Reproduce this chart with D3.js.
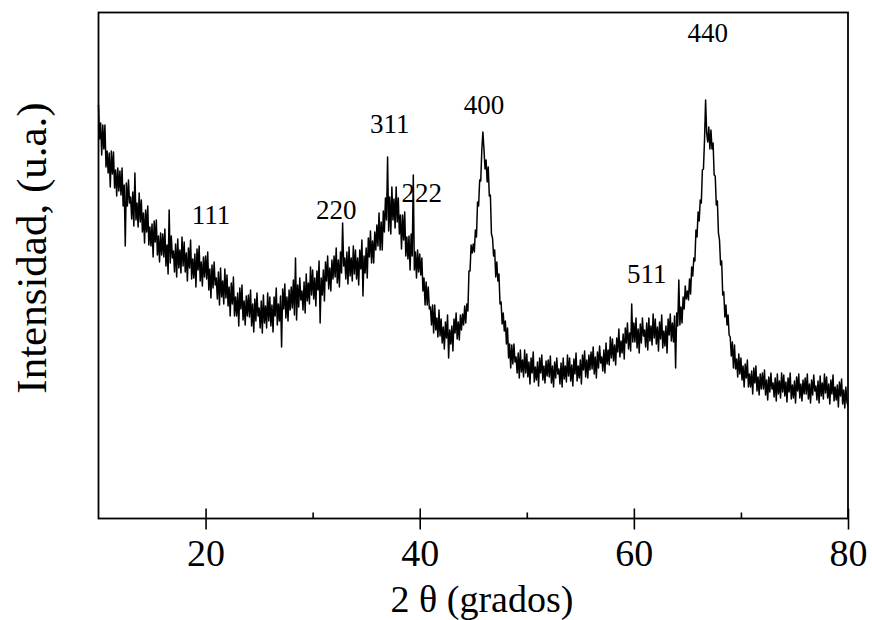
<!DOCTYPE html>
<html>
<head>
<meta charset="utf-8">
<script src="https://cdn.jsdelivr.net/npm/d3@7"></script>
<style>
  html, body { margin: 0; padding: 0; background: #ffffff; }
  svg { display: block; }
</style>
</head>
<body>
<svg id="chart" width="872" height="620"></svg>
<script>
// XRD scan: 2θ from 10° to 80°, one reading every 0.1°
const twoThetaStart = 10;
const twoThetaStep = 0.1;

// Intensity (arbitrary units), ten readings per degree (one row per degree)
const intensity = [
  413,379,395,363,393,369,393,351,367,345,
  365,331,367,344,366,330,348,322,350,327,
  347,323,350,312,333,272,335,312,338,315,
  321,299,326,292,345,298,315,291,325,296,
  318,286,305,275,308,286,312,273,291,272,
  294,261,297,276,298,263,282,256,285,263,
  284,261,289,252,273,244,308,255,282,260,
  267,246,274,241,279,250,268,245,281,252,
  276,246,265,237,270,250,278,239,259,240,
  264,231,269,248,272,237,256,232,261,241,
  262,239,266,228,249,220,253,230,256,233,
  240,219,246,213,250,221,237,214,249,220,
  243,212,231,202,235,214,241,202,221,202,
  225,192,230,209,233,198,217,193,222,202,
  223,201,228,192,214,186,219,197,225,202,
  210,190,217,185,223,195,212,190,225,197,
  221,192,213,186,221,202,230,193,214,197,
  222,171,229,209,234,200,221,197,228,208,
  231,210,238,203,260,198,233,211,240,218,
  227,208,236,205,244,217,235,214,251,223,
  248,219,240,212,247,228,257,195,240,223,
  248,217,256,237,262,229,250,227,258,239,
  262,241,270,235,258,231,266,245,295,252,
  260,239,266,234,271,242,260,237,272,244,
  268,239,260,233,268,249,278,222,262,245,
  270,240,280,261,287,255,277,255,286,268,
  293,272,305,268,296,268,307,286,320,298,
  361,287,321,284,331,298,319,290,331,296,
  320,284,303,269,303,278,306,262,281,259,
  282,248,284,262,343,248,266,240,268,246,
  264,243,260,227,240,213,236,213,231,209,
  211,193,213,185,213,188,200,181,208,182,
  199,175,191,169,196,180,203,160,188,174,
  192,167,199,185,205,179,196,178,203,188,
  204,193,212,195,214,207,247,247,273,265,
  274,266,288,281,316,312,338,337,368,386,
  369,349,358,336,351,322,323,284,280,262,
  268,241,256,237,244,214,216,194,205,187,
  197,174,190,160,174,150,173,154,174,156,
  161,145,165,140,168,146,158,141,168,145,
  164,141,156,134,160,145,166,136,151,138,
  156,132,160,145,163,138,152,135,157,142,
  158,141,162,135,152,131,156,140,160,144,
  149,134,155,131,160,139,152,136,163,142,
  160,137,153,132,159,144,165,137,152,140,
  158,134,163,148,167,141,158,140,163,148,
  166,149,171,144,161,140,166,150,172,155,
  161,147,168,145,175,154,168,153,181,160,
  179,157,173,153,180,166,189,161,177,165,
  184,159,190,175,195,169,185,167,214,176,
  195,176,200,170,189,165,194,175,200,182,
  188,171,195,168,200,177,192,173,204,180,
  199,174,191,167,196,179,203,170,187,172,
  192,165,199,183,204,177,195,176,202,150,
  205,192,238,193,211,195,221,209,232,219,
  227,218,239,224,251,242,260,257,288,281,
  306,297,318,315,348,349,378,418,385,376,
  391,369,388,369,375,343,342,313,317,285,
  278,253,257,223,226,201,213,193,203,183,
  181,162,176,150,173,149,159,141,164,144,
  160,138,152,131,154,140,158,131,144,131,
  147,124,150,135,152,127,141,123,144,129,
  145,129,148,123,138,118,141,126,145,129,
  135,121,140,117,144,124,137,120,145,126,
  143,122,136,116,140,126,145,119,133,120,
  137,115,141,127,144,120,134,117,138,124,
  140,124,144,119,134,115,138,123,143,127,
  132,118,137,115,142,122,135,119,144,125,
  141,120,134,114,138,124,143,117,131,118,
  133,111,136,122,139,114,128,110,131,116,
  112
];

// Reflection labels (hkl) placed at 2θ / intensity
const peakHkl    = ["111", "220", "311", "222", "400", "511", "440"];
const peakTheta  = [20.5, 32.2, 37.2, 40.2, 46.0, 61.2, 66.9];
const peakLabelY = [294, 299, 385, 316, 404, 235, 476];

const majorTicks = [20, 40, 60, 80];
const minorTicks = [30, 50, 70];

const xTitle = "2 θ (grados)";
const yTitle = "Intensidad, (u.a.)";

const serif = "'Liberation Serif', 'Times New Roman', Times, 'DejaVu Serif', serif";

const svg = d3.select("#chart");
const plot = { left: 98.5, right: 848, top: 12.5, bottom: 518.5 };

const x = d3.scaleLinear().domain([10, 80]).range([plot.left, plot.right]);
const y = d3.scaleLinear().domain([0, 506]).range([518, 12]);

const points = intensity.map((v, i) => [twoThetaStart + i * twoThetaStep, v]);

// diffraction trace
svg.append("path")
  .datum(points)
  .attr("fill", "none")
  .attr("stroke", "#000")
  .attr("stroke-width", 1.5)
  .attr("stroke-linejoin", "round")
  .attr("d", d3.line().x(d => x(d[0])).y(d => y(d[1])));

// frame
svg.append("rect")
  .attr("x", plot.left).attr("y", plot.top)
  .attr("width", plot.right - plot.left).attr("height", plot.bottom - plot.top)
  .attr("fill", "none").attr("stroke", "#000").attr("stroke-width", 1.8);

// bottom axis: major ticks cross the frame line, minor ticks point inward
const axisG = svg.append("g").attr("transform", `translate(0,${plot.bottom})`);
axisG.append("g")
  .call(d3.axisBottom(x).tickValues(majorTicks).tickSize(11).tickPadding(10).tickFormat(d3.format("d")))
  .call(g => g.select(".domain").remove())
  .call(g => g.selectAll(".tick line").attr("stroke", "#000").attr("stroke-width", 1.6))
  .call(g => g.selectAll(".tick text")
    .style("font-family", serif)
    .style("font-size", "38px").attr("fill", "#000"));
axisG.append("g")
  .call(d3.axisBottom(x).tickValues(majorTicks).tickSize(-10).tickFormat(""))
  .call(g => g.select(".domain").remove())
  .call(g => g.selectAll(".tick line").attr("stroke", "#000").attr("stroke-width", 1.6));
axisG.append("g")
  .call(d3.axisBottom(x).tickValues(minorTicks).tickSize(-6).tickFormat(""))
  .call(g => g.select(".domain").remove())
  .call(g => g.selectAll(".tick line").attr("stroke", "#000").attr("stroke-width", 1.6));

// reflection labels
svg.append("g")
  .selectAll("text")
  .data(peakHkl)
  .join("text")
  .attr("x", (d, i) => x(peakTheta[i]))
  .attr("y", (d, i) => y(peakLabelY[i]))
  .attr("text-anchor", "middle")
  .style("font-family", serif)
  .style("font-size", "27px")
  .attr("fill", "#000")
  .text(d => d);

// axis titles
svg.append("text")
  .attr("x", 482).attr("y", 612)
  .attr("text-anchor", "middle")
  .style("font-family", serif)
  .style("font-size", "38px")
  .attr("fill", "#000")
  .text(xTitle);

svg.append("text")
  .attr("transform", "translate(46,248) rotate(-90)")
  .attr("text-anchor", "middle")
  .style("font-family", serif)
  .style("font-size", "43px")
  .attr("fill", "#000")
  .text(yTitle);
</script>
</body>
</html>
